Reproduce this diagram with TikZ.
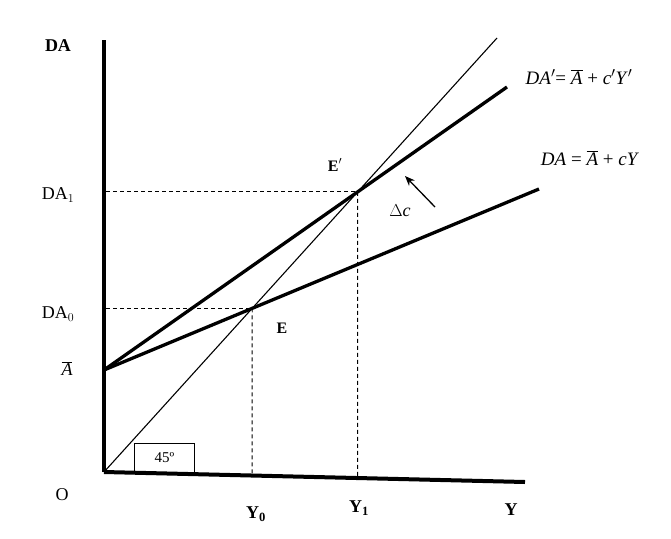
\documentclass[tikz,border=0pt]{standalone}
\usepackage{fontspec}
\setmainfont{Liberation Serif}
\usetikzlibrary{calc,arrows.meta}
\begin{document}
\begin{tikzpicture}[x=1pt,y=-1pt,
  axis/.style={line width=4pt},
  dline/.style={line width=3.3pt},
  thinline/.style={line width=1.1pt},
  guide/.style={line width=0.9pt, dash pattern=on 4pt off 3pt},
  lbl/.style={font=\fontsize{18}{21}\selectfont, inner sep=0pt},
  blbl/.style={font=\fontsize{18}{21}\selectfont\bfseries, inner sep=0pt},
  eqlbl/.style={font=\fontsize{19}{22}\selectfont, inner sep=0pt}]
\useasboundingbox (0,0) rectangle (671,538);
% key points
\coordinate (O) at (104,472);
\coordinate (top) at (104,40);
\coordinate (xend) at (525,482);
\coordinate (A) at (104,370);
\coordinate (DAend) at (539,189);
\coordinate (DApend) at (507,87);
\coordinate (Lend) at (497,38);
\coordinate (E) at (intersection of A--DAend and O--Lend);
\coordinate (E1) at (intersection of A--DApend and O--Lend);
\coordinate (E0x) at (intersection of E--{$(E)+(0,300)$} and O--xend);
\coordinate (E1x) at (intersection of E1--{$(E1)+(0,300)$} and O--xend);
\coordinate (E0y) at (106,0 |- E);
\coordinate (E1y) at (106,0 |- E1);
% dashed guides
\draw[guide] (E0y) -- (E);
\draw[guide] (E1y) -- (E1);
\draw[guide] (E) -- (E0x);
\draw[guide] (E1) -- (E1x);
% lines
\draw[thinline] (O) -- (Lend);
\draw[dline] (A) -- (DAend);
\draw[dline] (A) -- (DApend);
% 45 box
\node[draw, line width=0.9pt, fill=white, minimum width=60pt, minimum height=29pt,
      anchor=south west, inner sep=0pt, font=\fontsize{15}{17}\selectfont] (box) at (134,473) {45º};
% axes
\draw[axis] (O) -- (top);
\draw[axis] (O) -- (xend);
% arrow
\coordinate (arrtail) at (435,207);
\coordinate (arrtip) at (405,176);
\draw[line width=1.3pt, -{Stealth[length=10pt,width=8pt]}] (arrtail) -- (arrtip);
% labels
\node[blbl] (lDA) at (58,46) {DA};
\node[lbl] (lDA1) at (58,195) {DA$_1$};
\node[lbl] (lDA0) at (58,314) {DA$_0$};
\node[lbl] (lA) at (67,369) {$\overline{\hbox{\itshape A}}$};
\node[lbl] (lO) at (62,495) {O};
\node[blbl] (lY0) at (256,514) {Y$_\mathbf{0}$};
\node[blbl] (lY1) at (359,508) {Y$_\mathbf{1}$};
\node[blbl] (lY) at (511,510) {Y};
\node[blbl, font=\fontsize{16}{19}\selectfont\bfseries] (lE1) at (335,165) {E$'$};
\node[blbl, font=\fontsize{16}{19}\selectfont\bfseries] (lE) at (282,328) {E};
\node[lbl] (ldc) at (400,211) {$\Delta$\textit{c}};
\node[eqlbl] (eq1) at (579,77) {\textit{DA}$'$= $\overline{\hbox{\itshape A}}$ + \textit{c}$'$\textit{Y}$'$};
\node[eqlbl] (eq2) at (590,158) {\textit{DA} = $\overline{\hbox{\itshape A}}$ + \textit{cY}};
\end{tikzpicture}
\end{document}
